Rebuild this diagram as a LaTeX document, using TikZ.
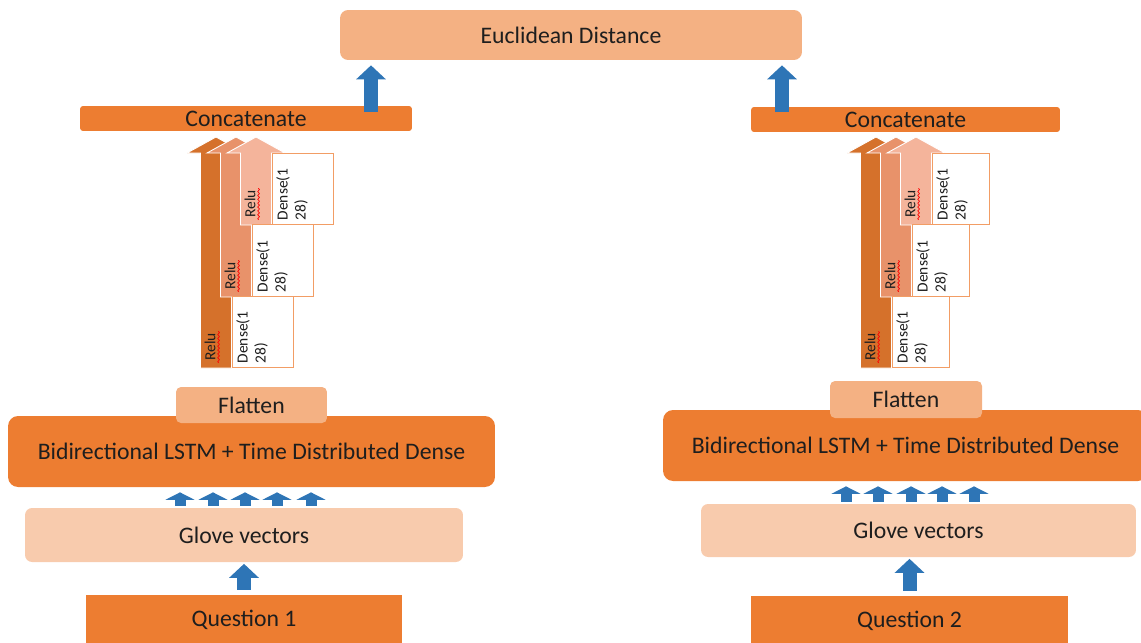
\documentclass[tikz,border=0pt]{standalone}
\usepackage{fontspec}
\setmainfont{Carlito}
\usetikzlibrary{arrows.meta,positioning,calc,decorations.pathmorphing}
\definecolor{orangemain}{HTML}{ED7D31}
\definecolor{orangelight}{HTML}{F4B183}
\definecolor{orangepale}{HTML}{F8CBAD}
\definecolor{arrowblue}{HTML}{2E75B6}
\definecolor{reludark}{HTML}{D5712B}
\definecolor{relumid}{HTML}{E8926A}
\definecolor{relulight}{HTML}{F4B49B}
\definecolor{txtgray}{HTML}{1E1E1E}

% block arrow of one Relu layer: centre x, bottom y, colour
\newcommand{\reluarrow}[3]{%
  \filldraw[fill=#3,draw=white,line width=0.5pt] (#1-15.5,#2) -- (#1-15.5,153) -- (#1-29,153) -- (#1,137)
    -- (#1+29,153) -- (#1+15.5,153) -- (#1+15.5,#2) -- cycle;}

\begin{document}
\begin{tikzpicture}[x=0.02cm,y=-0.02cm,
    layer/.style={rectangle,inner sep=0pt,text=txtgray,font=\fontsize{13.5}{16}\selectfont},
    orangebox/.style={layer,fill=orangemain},
    lightbox/.style={layer,fill=orangelight},
    palebox/.style={layer,fill=orangepale},
    densebox/.style={rectangle,draw=orangemain!75,line width=0.8pt,fill=white,anchor=south west,inner sep=0pt},
    densetxt/.style={rotate=90,anchor=north west,align=left,inner xsep=2.5pt,inner ysep=2.5pt,text=txtgray,font=\fontsize{8.8}{10.3}\selectfont},
    relutxt/.style={rotate=90,inner sep=1pt,text=txtgray,font=\fontsize{8.8}{10}\selectfont},
    squig/.style={red,line width=0.4pt,decorate,decoration={snake,segment length=2.2pt,amplitude=0.5pt}},
    blkbig/.style={draw=arrowblue,line width=0.28cm,-{Triangle[width=0.58cm,length=0.28cm]}},
    blksmall/.style={draw=arrowblue,line width=0.22cm,-{Triangle[width=0.58cm,length=0.15cm]},shorten <=0.04cm,shorten >=0.1cm}
  ]
  \useasboundingbox (0,0) rectangle (1141,642);

  \node[lightbox,minimum width=9.24cm,minimum height=1.0cm,rounded corners=0.16cm] (euc) at (571,35) {Euclidean Distance};
  \node[orangebox,minimum width=6.64cm,minimum height=0.5cm,rounded corners=0.06cm] (catL) at (246,118.5) {Concatenate};
  \node[orangebox,minimum width=6.18cm,minimum height=0.5cm,rounded corners=0.06cm] (catR) at (905.5,119.5) {Concatenate};

  % left branch
  \node[orangebox,minimum width=9.74cm,minimum height=1.42cm,rounded corners=0.2cm] (lstmL) at (251.5,451.5) {Bidirectional LSTM + Time Distributed Dense};
  \node[lightbox,minimum width=3.02cm,minimum height=0.72cm,rounded corners=0.1cm] (flatL) at (251.5,405) {Flatten};
  \node[palebox,minimum width=8.76cm,minimum height=1.08cm,rounded corners=0.14cm] (glvL) at (244,535) {Glove vectors};
  \node[orangebox,minimum width=6.32cm,minimum height=1.0cm] (qL) at (244,620) {Question 1};

  % right branch
  \node[orangebox,minimum width=9.7cm,minimum height=1.42cm,rounded corners=0.2cm] (lstmR) at (905.5,445.5) {Bidirectional LSTM + Time Distributed Dense};
  \node[lightbox,minimum width=3.04cm,minimum height=0.74cm,rounded corners=0.1cm] (flatR) at (906,399.5) {Flatten};
  \node[palebox,minimum width=8.7cm,minimum height=1.06cm,rounded corners=0.14cm] (glvR) at (918.5,530.5) {Glove vectors};
  \node[orangebox,minimum width=6.34cm,minimum height=1.0cm] (qR) at (909.5,621) {Question 2};

  % dense stacks
  \foreach \ox/\bw/\s in {0/61/L,660/57/R}{
    \reluarrow{\ox+216}{368}{reludark}
    \reluarrow{\ox+236}{297}{relumid}
    \reluarrow{\ox+256}{225}{relulight}
    \node[densebox,minimum width=\bw*0.02cm,minimum height=1.42cm] (dense\s1) at (\ox+231.5,368) {};
    \node[densebox,minimum width=\bw*0.02cm,minimum height=1.44cm] (dense\s2) at (\ox+251.5,297) {};
    \node[densebox,minimum width=\bw*0.02cm,minimum height=1.42cm] (dense\s3) at (\ox+271.5,225) {};
    \foreach \i in {1,2,3}
      \node[densetxt] (dtxt\s\i) at (dense\s\i.south west) {Dense(1\\28)};
    \node[relutxt] (relu\s1) at (\ox+210,347) {Relu};
    \node[relutxt] (relu\s2) at (\ox+230,276) {Relu};
    \node[relutxt] (relu\s3) at (\ox+250,204) {Relu};
    \foreach \i in {1,2,3}
      \draw[squig] ([xshift=0.6pt]relu\s\i.south west) -- ([xshift=0.6pt]relu\s\i.south east);
  }

  % blue arrows
  \coordinate (upL) at (371,112);
  \coordinate (upR) at (782,112);
  \draw[blkbig,shorten >=0.1cm] (upL) -- (upL |- euc.south);
  \draw[blkbig,shorten >=0.1cm] (upR) -- (upR |- euc.south);
  \draw[blkbig,shorten <=0.1cm,shorten >=0.03cm] (qL.north) -- (glvL.south);
  \draw[blkbig,shorten <=0.1cm,shorten >=0.03cm] (qR.north) -- (qR.north |- glvR.south);
  \foreach \x in {180,213,245,277,311}
    \draw[blksmall] (\x,0 |- glvL.north) -- (\x,0 |- lstmL.south);
  \foreach \x in {846,878,911,942,974}
    \draw[blksmall] (\x,0 |- glvR.north) -- (\x,0 |- lstmR.south);
\end{tikzpicture}
\end{document}
